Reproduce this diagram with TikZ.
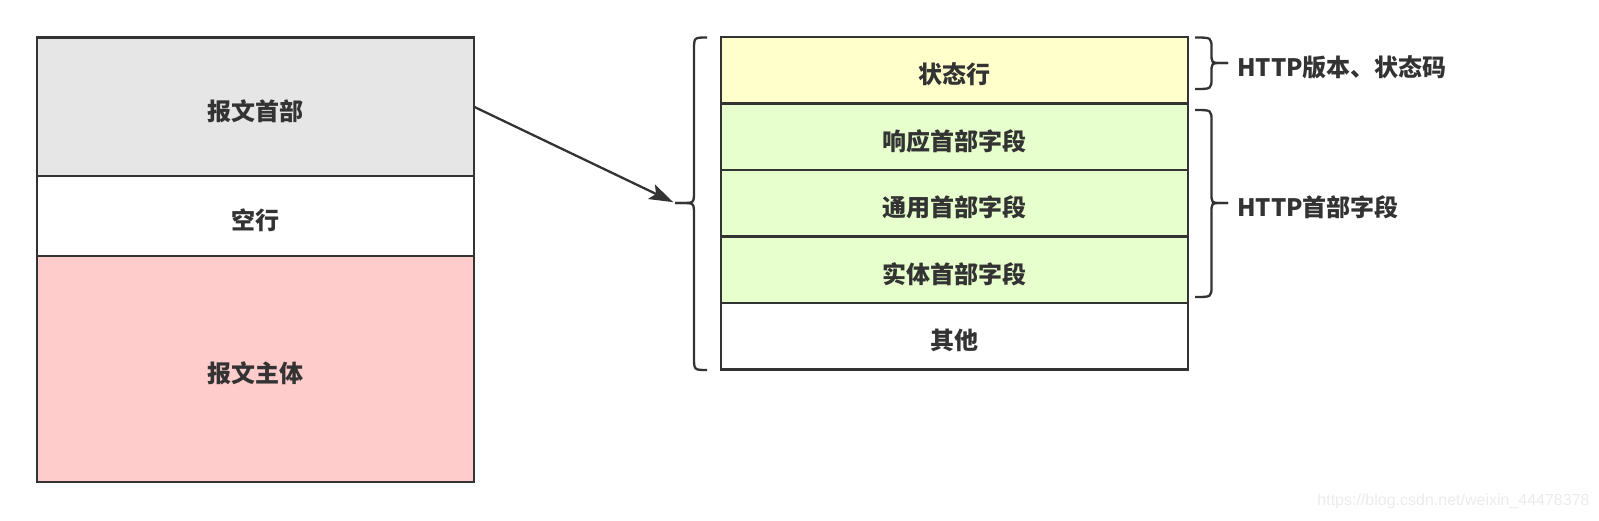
\documentclass[tikz,border=0pt]{standalone}
\usepackage{fontspec}
\setmainfont{Noto Sans CJK SC}
\newfontfamily\wmfont{Liberation Sans}
\usetikzlibrary{positioning,arrows.meta}

\definecolor{linec}{HTML}{333333}
\definecolor{grayf}{HTML}{E6E6E6}
\definecolor{pinkf}{HTML}{FFCCCC}
\definecolor{yellowf}{HTML}{FFFFCC}
\definecolor{greenf}{HTML}{E6FFCC}
\definecolor{wmc}{HTML}{EBEBEB}

\tikzset{
  field/.style={draw=linec, line width=2.3pt, outer sep=0pt, inner sep=0pt,
    text=linec, text height=27pt, text depth=0pt,
    font=\fontsize{24}{28}\selectfont\bfseries},
  leftbox/.style={field, minimum width=437pt},
  rightbox/.style={field, minimum width=467pt, minimum height=66.5pt},
  brace/.style={draw=linec, line width=2.3pt},
  note/.style={inner sep=0pt, anchor=west, text=linec, text height=27pt, text depth=0pt,
    font=\fontsize{24}{28}\selectfont\bfseries},
  wm/.style={inner sep=0pt, text=wmc, font=\wmfont\fontsize{16}{19}\selectfont}
}

\begin{document}
\begin{tikzpicture}[x=1pt, y=-1pt]
          \useasboundingbox (0,0) rectangle (1599,520);

          % message layout
          \node[leftbox, fill=grayf, minimum height=138.5pt] (hdr) at (255.5,106.75) {报文首部};
          \node[leftbox, fill=white, minimum height=80pt, below=0pt of hdr] (blank) {空行};
          \node[leftbox, fill=pinkf, minimum height=226pt, below=0pt of blank] (body) {报文主体};

          % header fields
          \node[rightbox, fill=yellowf] (status) at (954.5,70.25) {状态行};
          \node[rightbox, fill=greenf, below=0pt of status] (resp) {响应首部字段};
          \node[rightbox, fill=greenf, below=0pt of resp] (gen) {通用首部字段};
          \node[rightbox, fill=greenf, below=0pt of gen] (ent) {实体首部字段};
          \node[rightbox, fill=white, below=0pt of ent] (other) {其他};

          % left brace
          \coordinate (ltip) at (675,203);
          \draw[brace] (707,37.5) .. controls (694,37.5) .. (694,50) -- (694,191)
            .. controls (694,203) .. (682,203) -- (ltip);
          \draw[brace] (ltip) -- (682,203) .. controls (694,203) .. (694,215)
            -- (694,357) .. controls (694,370) .. (707,370);

          \draw[line width=2.3pt, draw=linec, shorten >=2pt,
            -{Stealth[length=24pt, width=16pt, inset=5pt]}] (hdr.east) -- (ltip);

          % right braces
          \foreach \t/\m/\b/\n in {37.5/63/89/ver, 110/203/297/fld} {
            \coordinate (tip-\n) at (1228,\m);
            \draw[brace] (1195,\t) .. controls (1211.5,\t) .. (1211.5,\t+11) -- (1211.5,\m-10)
              .. controls (1211.5,\m) .. (1221,\m) -- (tip-\n);
            \draw[brace] (tip-\n) -- (1221,\m) .. controls (1211.5,\m) .. (1211.5,\m+10)
              -- (1211.5,\b-11) .. controls (1211.5,\b) .. (1195,\b);
          }

          \node[note, right=9pt of tip-ver] (verlbl) {HTTP版本、状态码};
          \node[note, right=9pt of tip-fld] (fldlbl) {HTTP首部字段};

          \node[wm] (wmark) at (1453.5,501.5) {https://blog.csdn.net/weixin\_44478378};
        \end{tikzpicture}
\end{document}
